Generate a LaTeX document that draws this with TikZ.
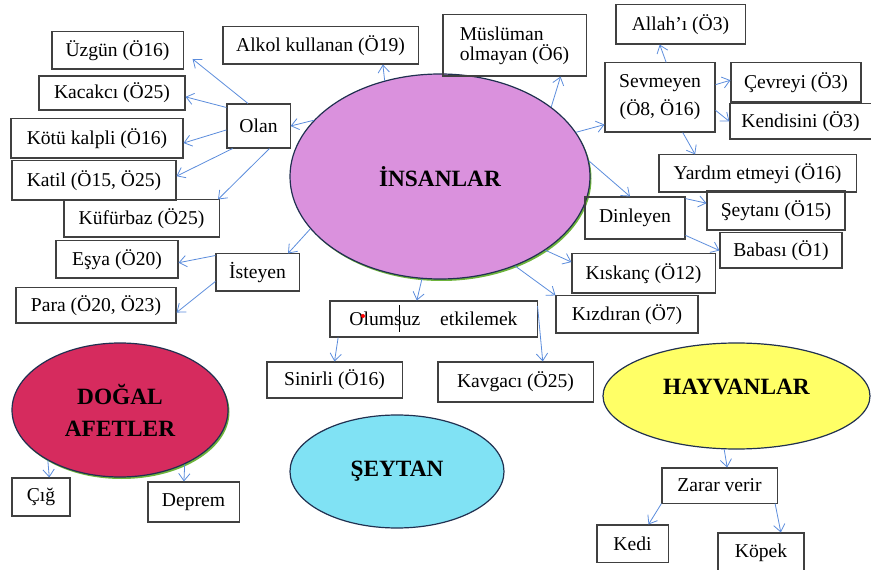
\documentclass[tikz,border=0pt]{standalone}
\usepackage{fontspec}
\setmainfont{Liberation Serif}
\usepackage{tikz}
\usetikzlibrary{arrows.meta, calc, shapes.geometric}
\definecolor{insanpink}{RGB}{218, 145, 221}
\definecolor{afetred}{RGB}{214, 43, 94}
\definecolor{seytancyan}{RGB}{128, 226, 244}
\definecolor{hayvanyellow}{RGB}{255, 255, 102}
\definecolor{linkblue}{RGB}{91, 140, 220}
\definecolor{boxgray}{RGB}{64, 64, 64}
\definecolor{rimnavy}{RGB}{32, 48, 80}
\definecolor{rimgreen}{RGB}{110, 180, 60}

\tikzset{
    kutu/.style={draw=boxgray, line width=0.8pt, inner sep=1pt,
                 font=\fontsize{14.7}{17}\selectfont},
    konu/.style={ellipse, draw=rimnavy, line width=0.9pt, inner sep=0pt,
                 font=\bfseries\fontsize{17.5}{24}\selectfont, align=center},
    ok/.style={draw=linkblue, line width=0.6pt,
               -{Straight Barb[length=5.5pt, width=8.5pt]}},
}

\begin{document}
\begin{tikzpicture}[x=0.75pt, y=-0.75pt]
    \useasboundingbox (0,0) rectangle (871,570);

    % Main topics (ellipses)
    \fill[rimgreen] (441.5,178.5) ellipse (150 and 102.5);
    \node[konu, fill=insanpink, minimum width=225pt, minimum height=153.75pt]
        (ins) at (440,176.5) {İNSANLAR};
    \fill[rimgreen] (121.5,412) ellipse (108 and 67);
    \node[konu, fill=afetred, minimum width=162pt, minimum height=100.5pt]
        (dogal) at (120,410) {DOĞAL\\AFETLER};
    \node[konu, fill=seytancyan, minimum width=160.5pt, minimum height=84.75pt]
        (seytan) at (397,471.5) {ŞEYTAN};
    \node[konu, fill=hayvanyellow, minimum width=200.25pt, minimum height=79.5pt,
          label={[font=\bfseries\fontsize{17.5}{20}\selectfont, yshift=6.75pt]center:HAYVANLAR}]
        (hayvan) at (736.5,396) {};

    % Left side: Olan and Isteyen
    \node[kutu, minimum width=98.3pt, minimum height=27.8pt] (uzgun) at (117.5,50.5) {Üzgün (Ö16)};
    \node[kutu, minimum width=109.5pt, minimum height=25.5pt] (kacakci) at (112,93) {Kacakcı (Ö25)};
    \node[kutu, minimum width=129pt, minimum height=29.3pt] (kotu) at (97,138.5) {Kötü kalpli (Ö16)};
    \node[kutu, minimum width=123pt, minimum height=29.3pt] (katil) at (94,180.5) {Katil (Ö15, Ö25)};
    \node[kutu, minimum width=116.3pt, minimum height=27.8pt] (kufur) at (141.5,218.5) {Küfürbaz (Ö25)};
    \node[kutu, minimum width=91.5pt, minimum height=27.8pt] (esya) at (117,259.5) {Eşya (Ö20)};
    \node[kutu, minimum width=120pt, minimum height=26.3pt] (para) at (96,305.5) {Para (Ö20, Ö23)};
    \node[kutu, minimum width=47.3pt, minimum height=33pt] (olan) at (258.5,126) {Olan};
    \node[kutu, minimum width=62.3pt, minimum height=27.8pt] (isteyen) at (257.5,272.5) {İsteyen};

    % Top
    \node[kutu, minimum width=146.3pt, minimum height=27.8pt] (alkol) at (320.5,45.5) {Alkol kullanan (Ö19)};
    \node[kutu, minimum width=107.3pt, minimum height=45.8pt, align=left,
          font=\fontsize{14.7}{15}\selectfont] (muslim) at (514.5,45.5) {Müslüman\\olmayan (Ö6)};

    % Right side: Sevmeyen and Dinleyen
    \node[kutu, minimum width=96.8pt, minimum height=29.3pt] (allah) at (680.5,24.5) {Allah’ı (Ö3)};
    \node[kutu, minimum width=82.5pt, minimum height=51.8pt, align=center,
          font=\fontsize{14.7}{21}\selectfont] (sevmeyen) at (660,97.5) {Sevmeyen\\(Ö8, Ö16)};
    \node[kutu, minimum width=97.5pt, minimum height=29.3pt] (cevreyi) at (796,82.5) {Çevreyi (Ö3)};
    \node[kutu, minimum width=105.8pt, minimum height=26.3pt] (kendisini) at (800.5,121.5) {Kendisini (Ö3)};
    \node[kutu, minimum width=147.8pt, minimum height=27.8pt] (yardim) at (757.5,173.5) {Yardım etmeyi (Ö16)};
    \node[kutu, minimum width=103.5pt, minimum height=29.3pt] (seytani) at (776,210.5) {Şeytanı (Ö15)};
    \node[kutu, minimum width=75pt, minimum height=31.5pt] (dinleyen) at (635,218) {Dinleyen};
    \node[kutu, minimum width=91.5pt, minimum height=26.3pt] (babasi) at (781,250.5) {Babası (Ö1)};
    \node[kutu, minimum width=107.3pt, minimum height=29.3pt] (kiskanc) at (643.5,273.5) {Kıskanç (Ö12)};
    \node[kutu, minimum width=106.5pt, minimum height=27.8pt] (kizdiran) at (627,314.5) {Kızdıran (Ö7)};

    % Bottom middle: Olumsuz etkilemek
    \node[kutu, minimum width=155.3pt, minimum height=27pt] (olumsuz) at (433.5,319) {Olumsuz\hspace{15pt}etkilemek\hspace{12pt}};
    \draw[black, line width=0.5pt] (399,305) -- (399,332);
    \fill[red] (363,316) circle (2);
    \node[kutu, minimum width=101.3pt, minimum height=27pt] (sinirli) at (334.5,380) {Sinirli (Ö16)};
    \node[kutu, minimum width=116.3pt, minimum height=30pt] (kavgaci) at (515.5,382) {Kavgacı (Ö25)};

    % Natural disasters and animals
    \node[kutu, minimum width=43.5pt, minimum height=28.5pt] (cig) at (41,497) {Çığ};
    \node[kutu, minimum width=68.3pt, minimum height=30pt] (deprem) at (193.5,502) {Deprem};
    \node[kutu, minimum width=86.3pt, minimum height=26.3pt] (zarar) at (719.5,485.5) {Zarar verir};
    \node[kutu, minimum width=53.3pt, minimum height=27.8pt] (kedi) at (632.5,543.5) {Kedi};
    \node[kutu, minimum width=64.5pt, minimum height=30pt] (kopek) at (761,553) {Köpek};

    % Arrows
    \draw[ok] (ins.156) -- (olan.east);
    \draw[ok] (olan.115) -- ($(uzgun.east)+(9,8.5)$);
    \draw[ok] (olan.150) -- (kacakci.-3);
    \draw[ok] (olan.187) -- (kotu.-3);
    \draw[ok] (olan.221) -- (katil.3);
    \draw[ok] (olan.-64) -- (kufur.14);
    \draw[ok] (ins.202) -- (isteyen.32);
    \draw[ok] (isteyen.158) -- (esya.-3);
    \draw[ok] (isteyen.192) -- (para.-5);
    \draw[ok] (ins.120) -- (alkol.-17);
    \draw[ok] (ins.32) -- (muslim.-34);
    \draw[ok] (ins.18) -- (sevmeyen.206);
    \draw[ok] (sevmeyen.80) -- (allah.224);
    \draw[ok] (sevmeyen.13) -- (cevreyi.178);
    \draw[ok] (sevmeyen.-13) -- (kendisini.west);
    \draw[ok] (sevmeyen.-57) -- (yardim.163);
    \draw[ok] (ins.6) -- (dinleyen.103);
    \draw[ok] (dinleyen.21) -- (seytani.174);
    \draw[ok] (dinleyen.-19) -- (babasi.west);
    \draw[ok] (ins.-35) -- (kiskanc.171);
    \draw[ok] (ins.-50) -- (kizdiran.north west);
    \draw[ok] (ins.-100) -- (olumsuz.132);
    \draw[ok] (olumsuz.191) -- (sinirli.north);
    \draw[ok] (olumsuz.7) -- (kavgaci.37);
    \draw[ok] (dogal.215) -- (cig.67);
    \draw[ok] (dogal.-40) -- (deprem.115);
    \draw[ok] (hayvan.-103) -- (zarar.67);
    \draw[ok] (zarar.south west) -- (kedi.50);
    \draw[ok] (zarar.-18) -- (kopek.46);
\end{tikzpicture}
\end{document}
